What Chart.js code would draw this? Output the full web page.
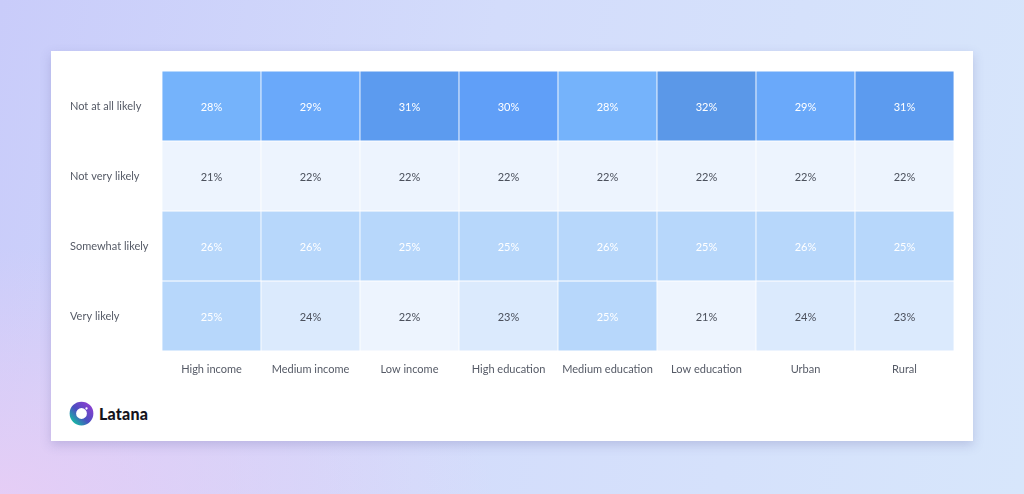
<!DOCTYPE html>
<html>
<head>
<meta charset="utf-8">
<script src="https://cdn.jsdelivr.net/npm/chart.js@4.4.0/dist/chart.umd.min.js"></script>
<style>
  html, body { margin: 0; padding: 0; }
  body {
    width: 1024px; height: 494px; overflow: hidden; position: relative;
    background: linear-gradient(100deg, #c9ccfa 0%, #d3dcfb 45%, #d7e6fb 100%);
    font-family: Lato, "Open Sans", sans-serif;
  }
  body::before {
    content: ''; position: absolute; left: 0; bottom: 0; width: 500px; height: 250px;
    background: radial-gradient(ellipse at bottom left, rgba(232, 205, 245, 0.9), rgba(232, 205, 245, 0) 70%);
  }
  .card {
    position: absolute; left: 51px; top: 51px; width: 922px; height: 390px;
    background: #fff; box-shadow: 0 4px 10px rgba(90, 90, 160, 0.25);
  }
  .chart { position: absolute; left: 0; top: 0; width: 922px; height: 340px; }
  .logo { position: absolute; left: 18px; top: 350px; display: flex; align-items: center; }
  .logo span { font-weight: 900; font-size: 16px; color: #14141c; margin-left: 5px; letter-spacing: 0.2px; }
</style>
</head>
<body>
<div class="card">
  <div class="chart"><canvas id="heat"></canvas></div>
  <div class="logo">
    <svg width="25" height="25" viewBox="0 0 24 24">
      <defs>
        <linearGradient id="lg" x1="0" y1="1" x2="1" y2="0">
          <stop offset="0" stop-color="#16b8a4"/>
          <stop offset="0.45" stop-color="#4a4fc0"/>
          <stop offset="1" stop-color="#8a3fd0"/>
        </linearGradient>
      </defs>
      <circle cx="12" cy="12" r="8.3" fill="none" stroke="url(#lg)" stroke-width="6.2"/>
      <circle cx="16.8" cy="7.2" r="1.1" fill="#fff"/>
    </svg>
    <span>Latana</span>
  </div>
</div>
<script>
const columns = ['High income', 'Medium income', 'Low income', 'High education', 'Medium education', 'Low education', 'Urban', 'Rural'];
const rows = ['Not at all likely', 'Not very likely', 'Somewhat likely', 'Very likely'];

const notAtAllLikely = [28, 29, 31, 30, 28, 32, 29, 31];
const notVeryLikely = [21, 22, 22, 22, 22, 22, 22, 22];
const somewhatLikely = [26, 26, 25, 25, 26, 25, 26, 25];
const veryLikely = [25, 24, 22, 23, 25, 21, 24, 23];

const rowValues = [notAtAllLikely, notVeryLikely, somewhatLikely, veryLikely];

function cellColor(v) {
  if (v >= 32) return '#5b98e8';
  if (v >= 31) return '#5c9bef';
  if (v >= 30) return '#609ff8';
  if (v >= 29) return '#6aa9fa';
  if (v >= 27) return '#75b3fb';
  if (v >= 25) return '#b7d7fb';
  if (v >= 23) return '#dbeafd';
  return '#edf4fe';
}

function textColor(v) {
  return v >= 25 ? '#ffffff' : '#4b505c';
}

// each row is a stacked band of height 1, coloured by its value
const datasets = rowValues.map((vals, r) => ({
  label: rows[r],
  data: vals.map(() => 1),
  values: vals,
  backgroundColor: vals.map(cellColor),
  borderColor: '#ffffff',
  borderWidth: 0.75,
  borderSkipped: false,
  barPercentage: 1,
  categoryPercentage: 1
}));

const cellLabels = {
  id: 'cellLabels',
  afterDatasetsDraw(chart) {
    const ctx = chart.ctx;
    ctx.save();
    ctx.font = '11px Lato, "Open Sans", sans-serif';
    ctx.textAlign = 'center';
    ctx.textBaseline = 'middle';
    chart.data.datasets.forEach((ds, di) => {
      chart.getDatasetMeta(di).data.forEach((bar, i) => {
        const v = ds.values[i];
        const p = bar.getProps(['x', 'y', 'base'], true);
        ctx.fillStyle = textColor(v);
        ctx.fillText(v + '%', p.x, (p.y + p.base) / 2 + 1);
      });
    });
    ctx.restore();
  }
};

new Chart(document.getElementById('heat'), {
  type: 'bar',
  data: { labels: columns, datasets: datasets },
  plugins: [cellLabels],
  options: {
    responsive: true,
    maintainAspectRatio: false,
    animation: false,
    layout: { padding: { left: 19, right: 19, top: 20, bottom: 0 } },
    plugins: { legend: { display: false }, tooltip: { enabled: false } },
    scales: {
      x: {
        stacked: true,
        grid: { display: false },
        border: { display: false },
        ticks: { color: '#555a66', font: { size: 11, family: 'Lato, "Open Sans", sans-serif' }, padding: 4, maxRotation: 0 },
        afterFit(scale) { scale.height = 40; }
      },
      y: {
        stacked: true,
        display: false,
        min: 0,
        max: rows.length,
        reverse: true
      },
      rowAxis: {
        type: 'category',
        labels: rows,
        position: 'left',
        offset: true,
        grid: { display: false },
        border: { display: false },
        ticks: { color: '#555a66', font: { size: 11, family: 'Lato, "Open Sans", sans-serif' }, crossAlign: 'far', padding: 0, labelOffset: 0 },
        afterFit(scale) { scale.width = 92; }
      }
    }
  }
});
</script>
</body>
</html>
